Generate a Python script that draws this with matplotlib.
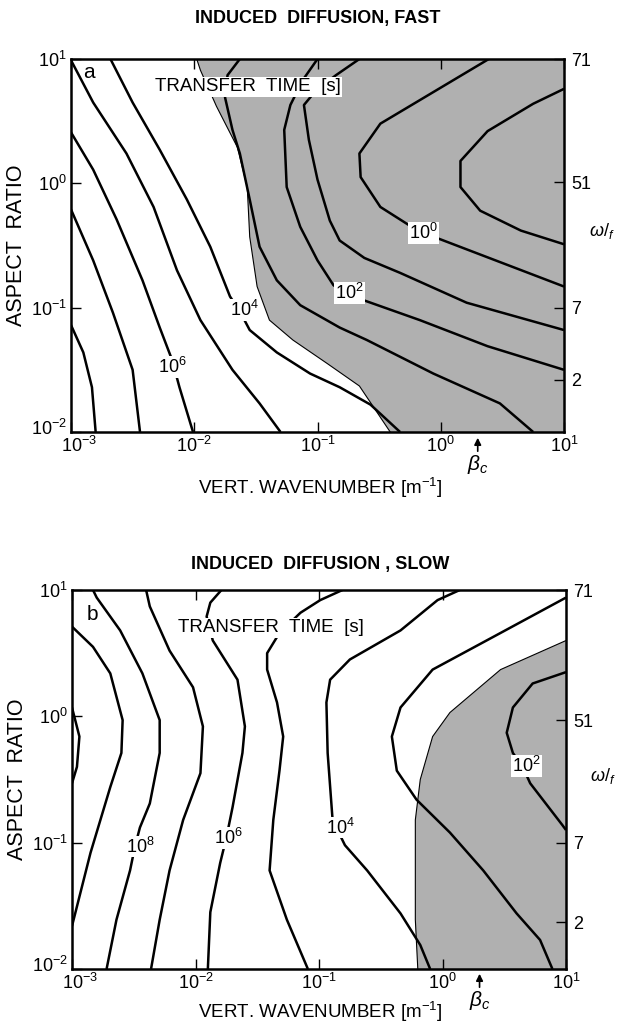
import numpy as np
import matplotlib
matplotlib.use("Agg")
import matplotlib.pyplot as plt
import matplotlib.transforms as mtransforms

plt.rcParams['font.family'] = ['Liberation Sans', 'DejaVu Sans']
plt.rcParams['mathtext.fontset'] = 'custom'
plt.rcParams['mathtext.rm'] = 'Liberation Sans'
plt.rcParams['mathtext.it'] = 'Liberation Sans:italic'

# ---------------- data (log10 of wavenumber, log10 of aspect ratio) ----------------
# Panel a: induced diffusion, fast
a_1e8_x = [-3.0, -2.90, -2.83, -2.80]
a_1e8_y = [-1.14, -1.36, -1.64, -2.0]
a_1e7_x = [-3.0, -2.82, -2.66, -2.50, -2.44]
a_1e7_y = [-0.21, -0.62, -1.04, -1.50, -2.0]
a_1e6_x = [-3.0, -2.82, -2.63, -2.42, -2.28, -2.18, -2.12, -2.01]
a_1e6_y = [0.41, 0.11, -0.29, -0.78, -1.16, -1.42, -1.64, -2.0]
a_1e5_x = [-3.0, -2.82, -2.55, -2.33, -2.14, -1.95, -1.69, -1.47, -1.30]
a_1e5_y = [0.99, 0.65, 0.24, -0.19, -0.70, -1.10, -1.50, -1.77, -2.0]
a_1e4_x = [-2.68, -2.50, -2.28, -2.06, -1.87, -1.71, -1.63, -1.55, -1.33, -1.06, -0.82, -0.57, -0.33]
a_1e4_y = [1.0, 0.65, 0.27, -0.13, -0.51, -0.91, -1.03, -1.18, -1.36, -1.53, -1.64, -1.78, -2.0]
a_1e3_x = [-1.63, -1.73, -1.75, -1.69, -1.63, -1.55, -1.47, -1.33, -1.14, -0.82, -0.60, -0.06, 0.48, 0.75]
a_1e3_y = [1.0, 0.87, 0.69, 0.43, 0.24, -0.13, -0.51, -0.78, -0.98, -1.16, -1.26, -1.53, -1.77, -2.0]
a_1e2_x = [-1.00, -1.12, -1.22, -1.27, -1.25, -1.14, -1.00, -0.87, -0.74, -0.17, 0.38, 1.0]
a_1e2_y = [1.0, 0.83, 0.63, 0.43, -0.03, -0.35, -0.62, -0.82, -0.90, -1.10, -1.31, -1.50]
a_1e1_x = [-0.66, -0.85, -1.01, -1.11, -1.07, -1.00, -0.90, -0.82, -0.62, -0.33, 0.21, 1.0]
a_1e1_y = [1.0, 0.87, 0.75, 0.63, 0.35, 0.03, -0.30, -0.46, -0.60, -0.72, -0.96, -1.18]
a_1e0_x = [0.39, -0.49, -0.66, -0.65, -0.49, -0.22, -0.11, -0.03, 1.0]
a_1e0_y = [1.0, 0.48, 0.24, 0.05, -0.19, -0.36, -0.39, -0.44, -0.83]
a_1em1_x = [1.0, 0.75, 0.38, 0.16, 0.16, 0.32, 0.65, 1.0]
a_1em1_y = [0.76, 0.64, 0.42, 0.18, -0.03, -0.22, -0.38, -0.49]
a_shade_x = [-1.98, -1.95, -1.82, -1.65, -1.57, -1.55, -1.49, -1.39, -1.20, -0.92, -0.66, -0.41]
a_shade_y = [1.0, 0.91, 0.62, 0.29, -0.03, -0.43, -0.83, -1.10, -1.26, -1.45, -1.63, -2.0]
a_label_text = ['$10^6$', '$10^4$', '$10^2$', '$10^0$']
a_label_x = [-2.18, -1.59, -0.74, -0.14]
a_label_y = [-1.48, -1.02, -0.88, -0.40]

# Panel b: induced diffusion, slow
b_1e10_x = [-3.0, -2.94, -2.96, -3.0]
b_1e10_y = [0.07, -0.16, -0.40, -0.53]
b_1e9_x = [-3.0, -2.83, -2.69, -2.59, -2.60, -2.69, -2.85, -3.0]
b_1e9_y = [0.71, 0.55, 0.34, -0.03, -0.29, -0.56, -1.08, -1.66]
b_1e8_x = [-2.83, -2.80, -2.61, -2.43, -2.29, -2.29, -2.37, -2.45, -2.49, -2.53, -2.64, -2.72]
b_1e8_y = [1.0, 0.94, 0.68, 0.34, -0.03, -0.29, -0.69, -0.88, -1.03, -1.22, -1.61, -2.0]
b_1e7_x = [-2.40, -2.37, -2.21, -2.02, -1.94, -1.96, -2.10, -2.21, -2.29, -2.36]
b_1e7_y = [1.0, 0.87, 0.52, 0.23, -0.08, -0.45, -0.82, -1.22, -1.61, -2.0]
b_1e6_x = [-1.79, -1.88, -1.91, -1.86, -1.66, -1.60, -1.62, -1.70, -1.75, -1.80, -1.88, -1.90]
b_1e6_y = [1.0, 0.90, 0.79, 0.60, 0.29, -0.08, -0.29, -0.72, -0.96, -1.16, -1.55, -2.0]
b_1e5_x = [-0.81, -0.99, -1.15, -1.32, -1.42, -1.42, -1.34, -1.29, -1.32, -1.37, -1.40, -1.26, -1.09]
b_1e5_y = [1.0, 0.92, 0.82, 0.66, 0.50, 0.37, 0.11, -0.16, -0.43, -0.82, -1.22, -1.61, -2.0]
b_1e4_x = [0.14, -0.04, -0.34, -0.75, -0.91, -0.94, -0.93, -0.89, -0.79, -0.61, -0.34, -0.18, -0.10]
b_1e4_y = [1.0, 0.92, 0.68, 0.45, 0.29, 0.11, -0.29, -0.82, -1.02, -1.22, -1.56, -1.81, -2.0]
b_1e3_x = [1.0, 0.47, -0.08, -0.34, -0.41, -0.37, -0.21, 0.06, 0.33, 0.60, 0.79, 0.89]
b_1e3_y = [0.94, 0.66, 0.37, 0.07, -0.16, -0.43, -0.66, -0.92, -1.22, -1.56, -1.77, -2.0]
b_1e2_x = [1.0, 0.73, 0.57, 0.52, 0.57, 0.65, 0.71, 0.97, 1.0]
b_1e2_y = [0.35, 0.26, 0.07, -0.13, -0.29, -0.40, -0.53, -0.86, -0.90]
b_shade_x = [1.0, 0.47, 0.06, -0.08, -0.18, -0.22, -0.22, -0.20]
b_shade_y = [0.60, 0.37, 0.03, -0.16, -0.50, -0.82, -1.61, -2.0]
b_label_text = ['$10^8$', '$10^6$', '$10^4$', '$10^2$']
b_label_x = [-2.45, -1.73, -0.83, 0.68]
b_label_y = [-1.03, -0.96, -0.88, -0.39]

# axes / ticks
x_tick_exp = [-3, -2, -1, 0, 1]
y_tick_exp = [-2, -1, 0, 1]
omega_labels = ['71', '51', '7', '2']
omega_exp_a = [1.0, 0.01, -1.0, -1.58]
omega_exp_b = [1.0, -0.03, -1.0, -1.63]
beta_c_exp = 0.30

# ---------------- drawing ----------------
W, H = 623, 1027
fig = plt.figure(figsize=(W / 100, H / 100), dpi=100)
SHADE = '#b0b0b0'


def px_y(y):
    return 1 - y / H


def draw_panel(ax, lines, shade_x, shade_y, lab_t, lab_x, lab_y, omega_exp,
               letter, letter_pos, tt_pos, omega_pos, xlab_y, beta_y):
    ax.set_xscale('log')
    ax.set_yscale('log')
    ax.set_xlim(10.0 ** x_tick_exp[0], 10.0 ** x_tick_exp[-1])
    ax.set_ylim(10.0 ** y_tick_exp[0], 10.0 ** y_tick_exp[-1])
    x0, x1 = ax.get_xlim()
    y0, y1 = ax.get_ylim()
    sx = list(10.0 ** np.array(shade_x)) + [x1, x1]
    sy = list(10.0 ** np.array(shade_y)) + [y0, y1]
    ax.fill(sx, sy, color=SHADE, lw=0, zorder=1)
    ax.plot(10.0 ** np.array(shade_x), 10.0 ** np.array(shade_y), color='k', lw=0.8, zorder=2)
    for lx, ly in lines:
        ax.plot(10.0 ** np.array(lx), 10.0 ** np.array(ly), color='k', lw=1.8,
                solid_capstyle='butt', zorder=3)
    for t, lx, ly in zip(lab_t, lab_x, lab_y):
        ax.text(10.0 ** lx, 10.0 ** ly, t, fontsize=13, ha='center', va='center', zorder=5,
                bbox=dict(boxstyle='square,pad=0.05', fc='white', ec='none'))
    ax.text(tt_pos[0], tt_pos[1], 'TRANSFER  TIME  [s]', transform=ax.transAxes, fontsize=13.5,
            ha='left', va='center', zorder=5,
            bbox=dict(boxstyle='square,pad=0.08', fc='white', ec='none'))
    ax.text(letter_pos[0], letter_pos[1], letter, transform=ax.transAxes, fontsize=15,
            ha='left', va='center', zorder=5)
    ax.set_xticks([10.0 ** e for e in x_tick_exp])
    ax.set_xticklabels(['$10^{%d}$' % e for e in x_tick_exp])
    ax.set_yticks([10.0 ** e for e in y_tick_exp])
    ax.set_yticklabels(['$10^{%d}$' % e for e in y_tick_exp])
    ax.minorticks_off()
    ax.tick_params(which='both', direction='in', length=7, width=1.0, labelsize=13,
                   top=True, right=False, pad=3)
    # keep the corner labels apart, as in the original
    lbl = ax.get_xticklabels()[0]
    lbl.set_transform(lbl.get_transform() +
                      mtransforms.ScaledTranslation(8 / 100, 0, fig.dpi_scale_trans))
    lbl = ax.get_yticklabels()[0]
    lbl.set_transform(lbl.get_transform() +
                      mtransforms.ScaledTranslation(0, 5 / 100, fig.dpi_scale_trans))
    for sp in ax.spines.values():
        sp.set_linewidth(1.8)
    fig.text(320 / W, px_y(xlab_y), 'VERT. WAVENUMBER [m$^{-1}$]', fontsize=13.5,
             ha='center', va='center')
    ax.set_ylabel('ASPECT  RATIO', fontsize=15.5, labelpad=3)
    # right axis with omega/f
    ax2 = ax.twinx()
    ax2.set_yscale('log')
    ax2.set_ylim(y0, y1)
    ax2.set_yticks([10.0 ** e for e in omega_exp])
    ax2.set_yticklabels(omega_labels)
    ax2.minorticks_off()
    ax2.tick_params(direction='in', length=7, width=1.0, labelsize=13, pad=5)
    for sp in ax2.spines.values():
        sp.set_visible(False)
    ax.text(omega_pos[0], omega_pos[1], r'$\omega/_{f}$', transform=ax.transAxes, fontsize=13,
            ha='center', va='center')
    # beta_c arrow, just below the bottom axis
    bx = 10.0 ** beta_c_exp
    trans = mtransforms.blended_transform_factory(ax.transData, fig.transFigure)
    ax.annotate('', xy=(bx, px_y(beta_y - 29)), xycoords=trans,
                xytext=(bx, px_y(beta_y - 10)), textcoords=trans,
                arrowprops=dict(arrowstyle='-|>', color='k', lw=1.2, mutation_scale=10),
                annotation_clip=False)
    ax.text(bx, px_y(beta_y), r'$\beta_c$', transform=trans,
            fontsize=15, ha='center', va='center')


ax_a = fig.add_axes([71 / W, 1 - 432 / H, 493 / W, 373 / H])
lines_a = [(a_1e8_x, a_1e8_y), (a_1e7_x, a_1e7_y), (a_1e6_x, a_1e6_y), (a_1e5_x, a_1e5_y),
           (a_1e4_x, a_1e4_y), (a_1e3_x, a_1e3_y), (a_1e2_x, a_1e2_y), (a_1e1_x, a_1e1_y),
           (a_1e0_x, a_1e0_y), (a_1em1_x, a_1em1_y)]
draw_panel(ax_a, lines_a, a_shade_x, a_shade_y, a_label_text, a_label_x, a_label_y,
           omega_exp_a, 'a', (0.025, 0.965), (0.17, 0.925), (1.077, 0.54), 488, 464)

ax_b = fig.add_axes([72 / W, 1 - 969 / H, 494 / W, 379 / H])
lines_b = [(b_1e10_x, b_1e10_y), (b_1e9_x, b_1e9_y), (b_1e8_x, b_1e8_y), (b_1e7_x, b_1e7_y),
           (b_1e6_x, b_1e6_y), (b_1e5_x, b_1e5_y), (b_1e4_x, b_1e4_y), (b_1e3_x, b_1e3_y),
           (b_1e2_x, b_1e2_y)]
draw_panel(ax_b, lines_b, b_shade_x, b_shade_y, b_label_text, b_label_x, b_label_y,
           omega_exp_b, 'b', (0.03, 0.935), (0.215, 0.9), (1.075, 0.51), 1012, 1000)

fig.text(318 / W, px_y(18), 'INDUCED  DIFFUSION, FAST', fontsize=13, fontweight='bold',
         ha='center', va='center')
fig.text(320 / W, px_y(565), 'INDUCED  DIFFUSION , SLOW', fontsize=13, fontweight='bold',
         ha='center', va='center')

fig.savefig('out.png', dpi=100)
